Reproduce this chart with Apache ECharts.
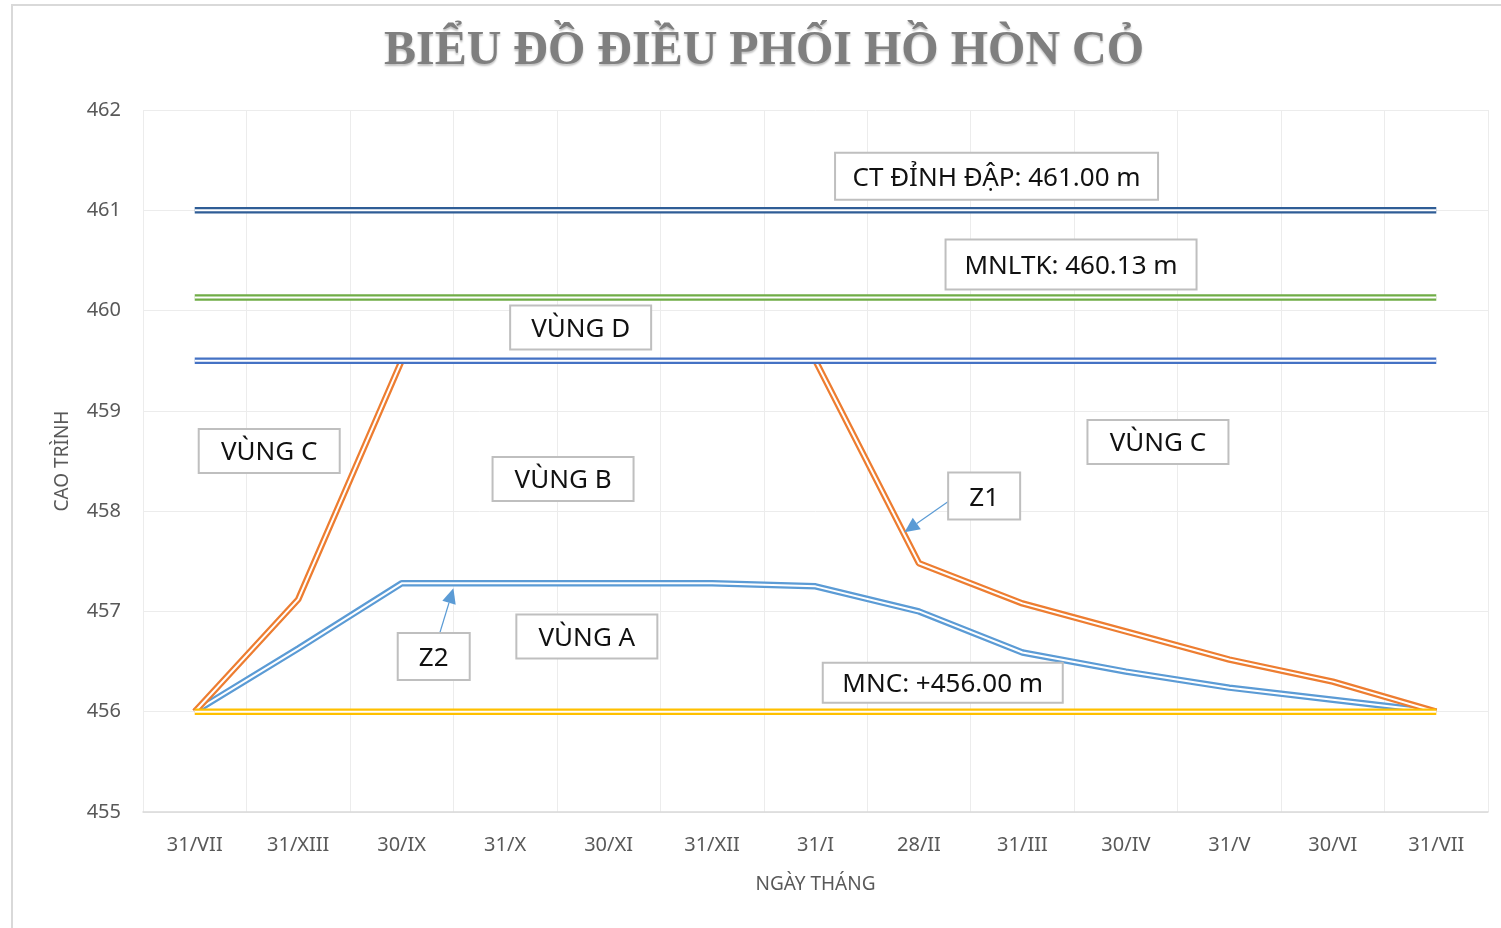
<!DOCTYPE html>
<html>
<head>
<meta charset="utf-8">
<script src="https://cdn.jsdelivr.net/npm/echarts@6/dist/echarts.min.js"></script>
<style>
  html, body { margin: 0; padding: 0; background: #fff; }
  #main { width: 1501px; height: 928px; }
</style>
</head>
<body>
<div id="main"></div>
<script>
var categories = ['31/VII', '31/XIII', '30/IX', '31/X', '30/XI', '31/XII', '31/I', '28/II', '31/III', '30/IV', '31/V', '30/VI', '31/VII'];
var yTicks = [455, 456, 457, 458, 459, 460, 461, 462];

// duong dieu phoi
var z1 = [456.0, 457.12, 459.5, null, null, null, 459.5, 457.48, 457.08, 456.8, 456.52, 456.3, 456.0];
var z2 = [456.0, 456.63, 457.28, 457.28, 457.28, 457.28, 457.25, 457.0, 456.59, 456.4, 456.24, 456.12, 456.0];

// cac muc nuoc
var ctDinhDap = [461, 461, 461, 461, 461, 461, 461, 461, 461, 461, 461, 461, 461];
var mnltk = [460.13, 460.13, 460.13, 460.13, 460.13, 460.13, 460.13, 460.13, 460.13, 460.13, 460.13, 460.13, 460.13];
var vungD = [459.5, 459.5, 459.5, 459.5, 459.5, 459.5, 459.5, 459.5, 459.5, 459.5, 459.5, 459.5, 459.5];
var mnc = [456, 456, 456, 456, 456, 456, 456, 456, 456, 456, 456, 456, 456];

// chu thich: [vi tri x (chi so), cao trinh, noi dung, rong, cao]
var notes = [
    [7.75, 461.34, 'CT ĐỈNH ĐẬP: 461.00 m', 323, 47],
    [8.47, 460.46, 'MNLTK: 460.13 m', 251, 50],
    [3.73, 459.83, 'VÙNG D', 141, 44],
    [0.72, 458.60, 'VÙNG C', 141, 44],
    [3.56, 458.32, 'VÙNG B', 141, 44],
    [9.31, 458.69, 'VÙNG C', 141, 44],
    [7.63, 458.15, 'Z1', 72, 47],
    [2.31, 456.55, 'Z2', 72, 47],
    [3.79, 456.75, 'VÙNG A', 141, 44],
    [7.23, 456.29, 'MNC: +456.00 m', 240, 40]
];
var arrows = [
    [[7.29, 458.10], [6.86, 457.79]],
    [[2.37, 456.79], [2.50, 457.23]]
];

var myChart = echarts.init(document.querySelector('#main'));

function doubleLine(name, data, color, z) {
    return [
        {
            name: name,
            type: 'line',
            data: data,
            symbol: 'none',
            z: z,
            lineStyle: { color: color, width: 6.5 },
            silent: true,
        },
        {
            name: name + '-inner',
            type: 'line',
            data: data,
            symbol: 'none',
            z: z + 0.5,
            lineStyle: { color: '#ffffff', width: 2 },
            silent: true,
        },
    ];
}

var series = [].concat(
    doubleLine('Z2', z2, '#5b9bd5', 2),
    doubleLine('Z1', z1, '#ed7d31', 3),
    doubleLine('MNC', mnc, '#ffc000', 4),
    doubleLine('VUNG D', vungD, '#4472c4', 5),
    doubleLine('MNLTK', mnltk, '#70ad47', 6),
    doubleLine('CT', ctDinhDap, '#2f5d96', 7)
);

var option = {
    animation: false,
    backgroundColor: '#ffffff',
    grid: {
        left: 143,
        right: 13,
        top: 110,
        bottom: 116,
    },
    xAxis: {
        type: 'category',
        data: categories,
        boundaryGap: true,
        name: 'NGÀY THÁNG',
        nameLocation: 'middle',
        nameGap: 63,
        nameTextStyle: { fontFamily: 'Noto Sans', fontSize: 19, color: '#595959' },
        axisLine: { lineStyle: { color: '#d9d9d9', width: 1.5 } },
        axisTick: { show: false },
        axisLabel: { fontFamily: 'Noto Sans', fontSize: 20, color: '#595959', margin: 23, interval: 0 },
        splitLine: { show: true, lineStyle: { color: '#ececec', width: 1 } },
    },
    yAxis: {
        type: 'value',
        min: yTicks[0],
        max: yTicks[yTicks.length - 1],
        interval: 1,
        name: 'CAO TRÌNH',
        nameLocation: 'middle',
        nameGap: 71,
        nameTextStyle: { fontFamily: 'Noto Sans', fontSize: 19, color: '#595959' },
        axisLine: { show: false },
        axisTick: { show: false },
        axisLabel: { fontFamily: 'Noto Sans', fontSize: 20, color: '#595959', margin: 22 },
        splitLine: { lineStyle: { color: '#ececec', width: 1 } },
    },
    series: series,
};

myChart.setOption(option);

// category axis rounds fractional indices, so interpolate between category centres
var p0 = myChart.convertToPixel({ xAxisIndex: 0, yAxisIndex: 0 }, [0, yTicks[0]]);
var p1 = myChart.convertToPixel({ xAxisIndex: 0, yAxisIndex: 0 }, [1, yTicks[1]]);
function px(p) {
    return [p0[0] + p[0] * (p1[0] - p0[0]), p0[1] + (p[1] - yTicks[0]) * (p1[1] - p0[1])];
}

var graphics = [
    {
        type: 'rect',
        shape: { x: 12, y: 5, width: 1600, height: 1000 },
        style: { fill: 'none', stroke: '#d9d9d9', lineWidth: 2 },
        z: 0,
        silent: true,
    },
    {
        type: 'text',
        x: 764,
        y: 52,
        style: {
            text: 'BIỂU ĐỒ ĐIỀU PHỐI HỒ HÒN CỎ',
            fontFamily: 'Liberation Serif',
            fontWeight: 'bold',
            fontSize: 48,
            fill: '#7f7f7f',
            align: 'center',
            verticalAlign: 'middle',
            textShadowColor: 'rgba(0,0,0,0.25)',
            textShadowBlur: 2,
            textShadowOffsetY: 2,
        },
        z: 10,
    },
];

arrows.forEach(function (a) {
    var s = px(a[0]);
    var e = px(a[1]);
    var dx = e[0] - s[0], dy = e[1] - s[1];
    var len = Math.sqrt(dx * dx + dy * dy);
    var ux = dx / len, uy = dy / len;
    var hl = 15, hw = 7;
    var bx = e[0] - ux * hl, by = e[1] - uy * hl;
    graphics.push({
        type: 'line',
        shape: { x1: s[0], y1: s[1], x2: bx, y2: by },
        style: { stroke: '#5b9bd5', lineWidth: 1.2 },
        z: 20,
    });
    graphics.push({
        type: 'polygon',
        shape: { points: [[e[0], e[1]], [bx - uy * hw, by + ux * hw], [bx + uy * hw, by - ux * hw]] },
        style: { fill: '#5b9bd5' },
        z: 20,
    });
});

notes.forEach(function (n) {
    var c = px([n[0], n[1]]);
    graphics.push({
        type: 'rect',
        shape: { x: c[0] - n[3] / 2, y: c[1] - n[4] / 2, width: n[3], height: n[4] },
        style: { fill: '#ffffff', stroke: '#bfbfbf', lineWidth: 2 },
        z: 30,
    });
    graphics.push({
        type: 'text',
        x: c[0],
        y: c[1] + 2,
        style: {
            text: n[2],
            fontFamily: 'Noto Sans',
            fontSize: 26,
            fill: '#111111',
            align: 'center',
            verticalAlign: 'middle',
        },
        z: 31,
    });
});

myChart.setOption({ graphic: graphics });
</script>
</body>
</html>
